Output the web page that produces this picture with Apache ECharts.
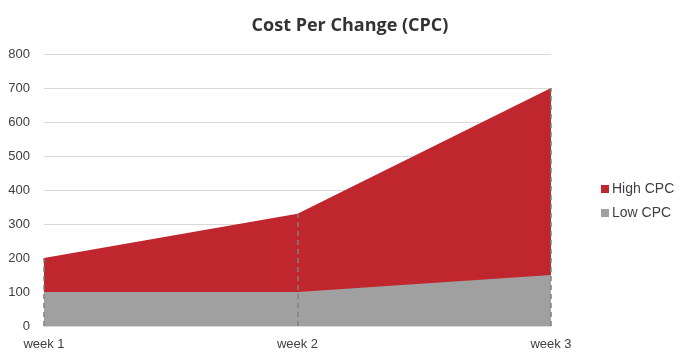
<!DOCTYPE html>
<html><head><meta charset="utf-8">
<script src="https://cdn.jsdelivr.net/npm/echarts@6/dist/echarts.min.js"></script>
<style>html,body{margin:0;padding:0;background:#fff}#c{width:680px;height:361px}</style>
</head><body><div id="c"></div>
<script>
const categories = ['week 1', 'week 2', 'week 3'];
const highCPC = [200, 330, 700];
const lowCPC = [100, 100, 150];
const yTicks = [0, 100, 200, 300, 400, 500, 600, 700, 800];

const chart = echarts.init(document.getElementById('c'));
const dropLines = categories.map((c, i) => [
  { coord: [c, 0] },
  { coord: [c, Math.max(highCPC[i], lowCPC[i])] }
]);
chart.setOption({
  animation: false,
  title: {
    text: 'Cost Per Change (CPC)', left: 345, textAlign: 'center', top: 12,
    textStyle: { fontFamily: 'Open Sans', fontWeight: 'bold', fontSize: 18, color: '#333' }
  },
  legend: {
    orient: 'vertical', left: 596, top: 177, itemWidth: 8, itemHeight: 8, itemGap: 10,
    icon: 'rect',
    textStyle: { fontFamily: 'Liberation Sans', fontSize: 14, color: '#404040', padding: [0, 0, 0, -2] },
    data: ['High CPC', 'Low CPC']
  },
  grid: { left: 44, right: 129, top: 54, bottom: 35, containLabel: false },
  xAxis: {
    type: 'category', data: categories, boundaryGap: false,
    axisLine: { lineStyle: { color: '#d9d9d9' } },
    axisTick: { show: false },
    axisLabel: { fontFamily: 'Liberation Sans', fontSize: 13, color: '#404040', margin: 12 },
    splitLine: { show: false }
  },
  yAxis: {
    type: 'value', min: yTicks[0], max: yTicks[yTicks.length - 1], interval: 100,
    axisLine: { show: false }, axisTick: { show: false },
    axisLabel: { fontFamily: 'Liberation Sans', fontSize: 13, color: '#404040', margin: 14 },
    splitLine: { lineStyle: { color: '#d9d9d9' } }
  },
  series: [
    {
      name: 'High CPC', type: 'line', data: highCPC, symbol: 'none',
      lineStyle: { width: 0 }, itemStyle: { color: '#C0262D' },
      areaStyle: { color: '#C0262D', opacity: 1 }
    },
    {
      name: 'Low CPC', type: 'line', data: lowCPC, symbol: 'none',
      lineStyle: { width: 0 }, itemStyle: { color: '#A0A0A0' },
      areaStyle: { color: '#A0A0A0', opacity: 1 },
      markLine: {
        silent: true, symbol: 'none', label: { show: false },
        lineStyle: { color: '#808080', type: [5, 4], width: 1.5 },
        data: dropLines
      }
    }
  ]
});
</script></body></html>
